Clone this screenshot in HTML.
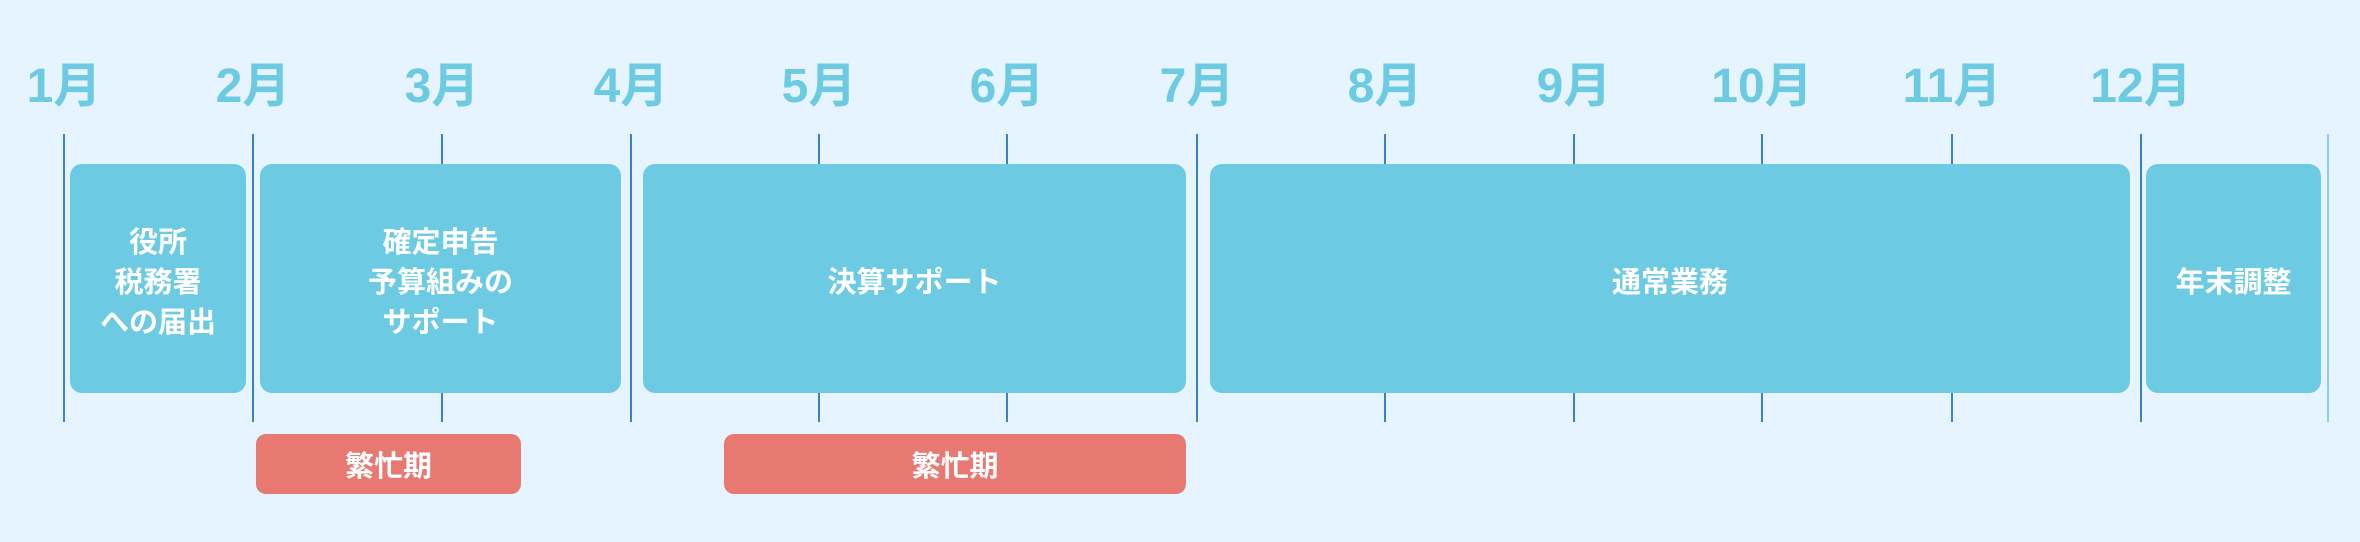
<!DOCTYPE html>
<html><head><meta charset="utf-8"><style>
body{margin:0;width:2360px;height:542px;background:#e5f4fe;position:relative;overflow:hidden;font-family:"Liberation Sans","Noto Sans CJK JP",sans-serif;}
.m{position:absolute;top:57px;width:200px;margin-left:-100px;text-align:center;color:#6ccae2;font-weight:bold;font-size:48px;line-height:60px;}
.l{position:absolute;top:134px;height:288px;width:2px;margin-left:-1px;background:#3b82c4;}
.b{position:absolute;top:164px;height:221px;padding-top:8px;background:#6ccae2;border-radius:12px;color:#fff;font-weight:bold;font-size:29px;line-height:40px;display:flex;align-items:center;justify-content:center;text-align:center;}
.p{position:absolute;top:434px;height:60px;background:#e87872;border-radius:10px;color:#fff;font-weight:bold;font-size:29px;display:flex;align-items:center;justify-content:center;}
</style></head><body>
<div class="m" style="left:64px">1月</div>
<div class="m" style="left:253px">2月</div>
<div class="m" style="left:442px">3月</div>
<div class="m" style="left:631px">4月</div>
<div class="m" style="left:819px">5月</div>
<div class="m" style="left:1007px">6月</div>
<div class="m" style="left:1197px">7月</div>
<div class="m" style="left:1385px">8月</div>
<div class="m" style="left:1574px">9月</div>
<div class="m" style="left:1762px">10月</div>
<div class="m" style="left:1952px">11月</div>
<div class="m" style="left:2141px">12月</div>
<div class="l" style="left:64px"></div>
<div class="l" style="left:253px"></div>
<div class="l" style="left:442px"></div>
<div class="l" style="left:631px"></div>
<div class="l" style="left:819px"></div>
<div class="l" style="left:1007px"></div>
<div class="l" style="left:1197px"></div>
<div class="l" style="left:1385px"></div>
<div class="l" style="left:1574px"></div>
<div class="l" style="left:1762px"></div>
<div class="l" style="left:1952px"></div>
<div class="l" style="left:2141px"></div>
<div class="l" style="left:2328px;background:#8fcfe6"></div>
<div class="b" style="left:70px;width:176px">役所<br>税務署<br>への届出</div>
<div class="b" style="left:260px;width:361px">確定申告<br>予算組みの<br>サポート</div>
<div class="b" style="left:643px;width:543px">決算サポート</div>
<div class="b" style="left:1210px;width:920px">通常業務</div>
<div class="b" style="left:2146px;width:175px">年末調整</div>
<div class="p" style="left:256px;width:265px">繁忙期</div>
<div class="p" style="left:724px;width:462px">繁忙期</div>
</body></html>
